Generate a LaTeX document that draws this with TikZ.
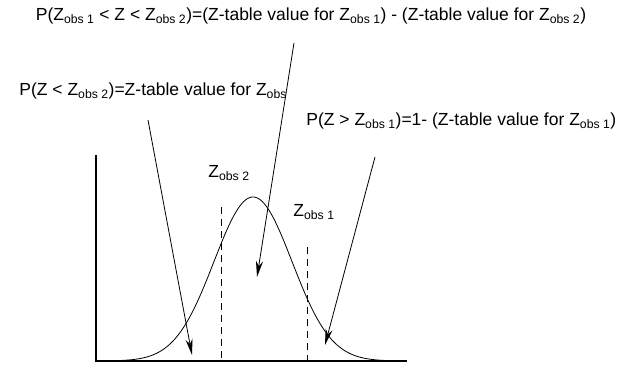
\documentclass[tikz,border=0pt]{standalone}
\usepackage{fontspec}
\setmainfont{Liberation Sans}
\usetikzlibrary{arrows.meta}
\newcommand{\zsub}[1]{Z\textsubscript{#1}}

\begin{document}
\begin{tikzpicture}[x=1pt,y=1pt,line width=0.8pt,>=Stealth,
  lbl/.style={inner sep=0pt,font=\fontsize{17.5}{20}\selectfont},
  pointer/.style={line width=0.8pt,-{Stealth[length=16pt,width=7pt,inset=5pt]}},
  cutline/.style={line width=0.8pt,dash pattern=on 7pt off 5pt}]
\useasboundingbox (0,0) rectangle (624,365);
% formulas
\node[lbl] (between) at (311,349) {P(\zsub{obs 1} < Z < \zsub{obs 2})=(Z-table value for \zsub{obs 1}) - (Z-table value for \zsub{obs 2})};
\node[lbl,anchor=west] (lower) at (19,274) {P(Z < \zsub{obs 2})=Z-table value for \zsub{obs}};
\node[lbl,anchor=west] (upper) at (306,244) {P(Z > \zsub{obs 1})=1- (Z-table value for \zsub{obs 1})};
% axes
\coordinate (orig) at (96,4);
\draw[line width=1.1pt] (96,210) -- (orig) -- (407,4);
% normal curve
\draw[domain=117:387,samples=150,smooth] plot (\x,{4+164*exp(-((\x-253)/39)^2/2)});
% observed values
\node[lbl] (ztwo) at (229,192) {\zsub{obs 2}};
\node[lbl] (zone) at (314,153) {\zsub{obs 1}};
\draw[cutline] (221,158) -- (221,4);
\draw[cutline] (307,118) -- (307,4);
% pointers to the areas
\coordinate (lowstart) at (148,245);
\coordinate (lowtip) at (192,10);
\coordinate (midstart) at (294,322);
\coordinate (midtip) at (257,88);
\coordinate (upstart) at (375,208);
\coordinate (uptip) at (325,20);
\draw[pointer] (lowstart) -- (lowtip);
\draw[pointer] (midstart) -- (midtip);
\draw[pointer] (upstart) -- (uptip);
\end{tikzpicture}
\end{document}
